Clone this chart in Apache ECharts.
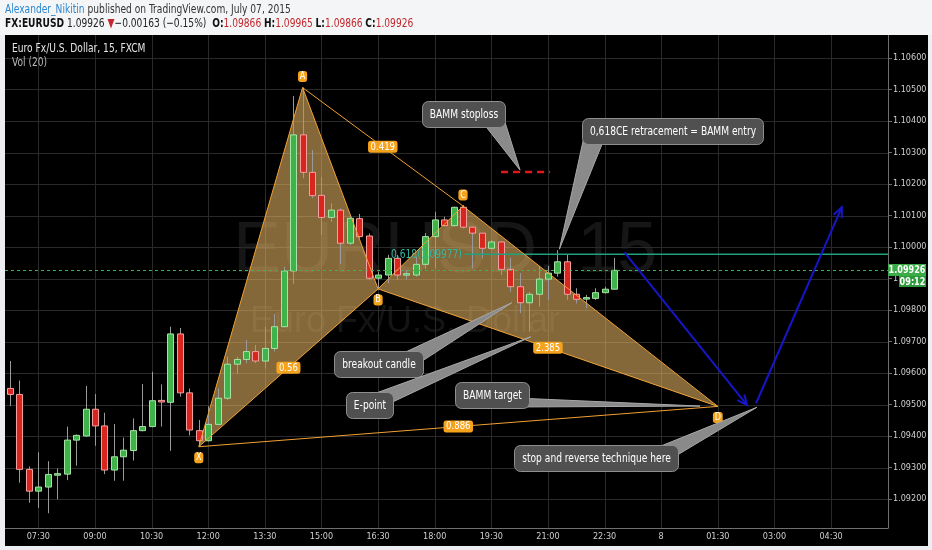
<!DOCTYPE html>
<html>
<head>
<meta charset="utf-8">
<script src="https://cdn.jsdelivr.net/npm/echarts@6.0.0/dist/echarts.min.js"></script>
<style>
html,body{margin:0;padding:0;background:#eef0f3;overflow:hidden;}
#chart{width:932px;height:550px;}
</style>
</head>
<body>
<div id="chart"></div>
<script>
// ---------------- DATA ----------------
const candleTimes = ['06:45','07:00','07:15','07:30','07:45','08:00','08:15','08:30','08:45','09:00','09:15','09:30','09:45','10:00','10:15','10:30','10:45','11:00','11:15','11:30','11:45','12:00','12:15','12:30','12:45','13:00','13:15','13:30','13:45','14:00','14:15','14:30','14:45','15:00','15:15','15:30','15:45','16:00','16:15','16:30','16:45','17:00','17:15','17:30','17:45','18:00','18:15','18:30','18:45','19:00','19:15','19:30','19:45','20:00','20:15','20:30','20:45','21:00','21:15','21:30','21:45','22:00','22:15','22:30','22:45'];
const openPrices = [1.09551,1.09532,1.09294,1.09225,1.09238,1.09276,1.09279,1.09387,1.09400,1.09485,1.09432,1.09292,1.09334,1.09354,1.09417,1.09430,1.09513,1.09507,1.09724,1.09537,1.09417,1.09385,1.09437,1.09520,1.09628,1.09643,1.09668,1.09638,1.09678,1.09747,1.09924,1.10356,1.10237,1.10164,1.10094,1.10117,1.10012,1.10090,1.10035,1.09901,1.09911,1.09964,1.09912,1.09911,1.09945,1.10033,1.10086,1.10068,1.10126,1.10063,1.10044,1.09996,1.10016,1.09929,1.09874,1.09823,1.09850,1.09898,1.09917,1.09953,1.09850,1.09836,1.09837,1.09855,1.09866];
const highPrices = [1.09638,1.09576,1.09303,1.09348,1.09320,1.09297,1.09430,1.09405,1.09559,1.09533,1.09474,1.09438,1.09395,1.09456,1.09565,1.09604,1.09564,1.09747,1.09743,1.09551,1.09451,1.09495,1.09551,1.09652,1.09652,1.09705,1.09689,1.09747,1.09787,1.09937,1.10479,1.10506,1.10308,1.10223,1.10139,1.10122,1.10102,1.10105,1.10043,1.09922,1.09975,1.09975,1.09927,1.09969,1.10044,1.10112,1.10096,1.10128,1.10133,1.10065,1.10044,1.10022,1.10017,1.09966,1.09917,1.09858,1.09940,1.09940,1.09990,1.09975,1.09869,1.09848,1.09869,1.09874,1.09965];
const lowPrices = [1.09495,1.09252,1.09188,1.09172,1.09155,1.09199,1.09260,1.09306,1.09398,1.09369,1.09279,1.09258,1.09258,1.09322,1.09415,1.09428,1.09430,1.09353,1.09525,1.09402,1.09366,1.09383,1.09435,1.09514,1.09597,1.09631,1.09631,1.09615,1.09668,1.09745,1.09883,1.10218,1.10155,1.10038,1.10080,1.09946,1.10006,1.10028,1.09895,1.09867,1.09885,1.09895,1.09897,1.09906,1.09930,1.09932,1.10065,1.10065,1.10059,1.09932,1.09964,1.09990,1.09911,1.09858,1.09790,1.09731,1.09810,1.09832,1.09906,1.09832,1.09821,1.09805,1.09832,1.09853,1.09866];
const closePrices = [1.09532,1.09294,1.09225,1.09238,1.09278,1.09280,1.09387,1.09402,1.09485,1.09432,1.09292,1.09334,1.09355,1.09417,1.09430,1.09512,1.09508,1.09724,1.09537,1.09419,1.09385,1.09437,1.09520,1.09628,1.09643,1.09668,1.09638,1.09678,1.09747,1.09924,1.10356,1.10237,1.10163,1.10094,1.10117,1.10012,1.10091,1.10033,1.09901,1.09911,1.09964,1.09911,1.09914,1.09945,1.10033,1.10086,1.10068,1.10126,1.10063,1.10044,1.09996,1.10016,1.09929,1.09874,1.09823,1.09850,1.09898,1.09917,1.09953,1.09850,1.09834,1.09838,1.09855,1.09866,1.09926];

// axes (time in minutes from Jul 6 00:00)
const timeMin = 397, timeMax = 1800.5;
const timeTicks = [450,540,630,720,810,900,990,1080,1170,1260,1350,1440,1530,1620,1710];
const dayLabel = '8';
const priceMin = 1.09108, priceMax = 1.10673;
const priceTicks = [1.092,1.093,1.094,1.095,1.096,1.097,1.098,1.099,1.100,1.101,1.102,1.103,1.104,1.105,1.106];

// harmonic pattern
const patternNames = ['X','A','B','C','D'];
const patternTimes = ['06 11:45','06 14:30','06 16:30','06 18:45','07 01:30'];
const patternPrices = [1.09366,1.10506,1.09867,1.10130,1.09494];
const patternLabelSide = [1,-1,1,-1,1];
const legPairs = [[0,1],[1,2],[0,2],[2,3],[3,4],[2,4],[0,4],[1,3]];
const legLabels = ['','','0.56','','','2.385','0.886','0.419'];
const fillTriangles = [[0,1,2],[2,3,4]];

// levels
const fibLabel = '0.618(1.09977)';
const fibPrice = 1.09977;
const fibStart = 1128;
const stopTimes = [1185.5,1263.4];
const stopPrice = 1.10238;
const timerText = '09:12';

// arrows
const arrowFrom = [[1381.7,1.09983],[1590.8,1.09504]];
const arrowTo = [[1576.5,1.09498],[1727,1.10126]];

// callouts
const calloutTexts = ['BAMM stoploss','0,618CE retracement = BAMM entry','breakout candle','E-point','BAMM target','stop and reverse technique here'];
const calloutBox = [[1125.6,1.10423],[1458.7,1.10368],[990.5,1.09628],[976,1.09499],[1171.2,1.09530],[1336.5,1.09331]];
const calloutTip = [[1215.7,1.10244],[1278.2,1.09993],[1202.5,1.09823],[1232.7,1.09715],[1501.8,1.09495],[1592,1.09491]];

// header texts
const author = 'Alexander_Nikitin';
const published = ' published on TradingView.com, July 07, 2015';
const symbol = 'FX:EURUSD';
const changeText = '\u22120.00163 (\u22120.15%)';
const chartTitle = 'Euro Fx/U.S. Dollar, 15, FXCM';
const volTitle = 'Vol (20)';
const watermark1 = 'EURUSD, 15';
const watermark2 = 'Euro Fx/U.S. Dollar';

// ---------------- HELPERS ----------------
const NARROW = '"Liberation Sans Narrow","Arial Narrow","DejaVu Sans Condensed",sans-serif';
const SANS = '"Liberation Sans",Arial,sans-serif';
const SQ = 0.81; // horizontal squeeze to emulate the narrow UI font
function parseT(s){
  const parts = s.split(' ');
  let day = 6, hm = s;
  if (parts.length === 2){ day = parseInt(parts[0],10); hm = parts[1]; }
  const [h,m] = hm.split(':').map(Number);
  return (day-6)*1440 + h*60 + m;
}
const pad = n => (n<10?'0':'')+n;
const patternX = patternTimes.map(parseT);
const lastPrice = closePrices[closePrices.length-1];
const fmtPrice = v => v.toFixed(5);

const mctx = document.createElement('canvas').getContext('2d');
function textW(t, font){ mctx.font = font; return mctx.measureText(t).width; }

function txt(style){
  if (style.align){ style.textAlign = style.align; }
  if (style.verticalAlign){ style.textVerticalAlign = style.verticalAlign; }
  return style;
}

const candleData = candleTimes.map((t,i)=>[parseT(t), openPrices[i], highPrices[i], lowPrices[i], closePrices[i]]);

// ---------------- CHART ----------------
const chart = echarts.init(document.getElementById('chart'), null, {renderer:'canvas'});

const option = {
  animation: false,
  backgroundColor: '#000000',
  grid: {left:5, right:44, top:35, bottom:22, show:false},
  xAxis: {
    type:'value', min:timeMin, max:timeMax,
    axisLine:{show:true, lineStyle:{color:'#6e6e6e'}},
    axisTick:{show:false, customValues: timeTicks},
    splitLine:{show:false},
    axisLabel:{
      customValues: timeTicks,
      color:'#cfcfcf', fontSize:9, fontFamily:NARROW, margin:4,
      formatter: v => {
        const m = Math.round(v) % 1440;
        if (m === 0) return dayLabel;
        return pad(Math.floor(m/60))+':'+pad(m%60);
      }
    }
  },
  yAxis: {
    type:'value', position:'right', min:priceMin, max:priceMax, scale:true,
    axisLine:{show:true, lineStyle:{color:'#6e6e6e'}},
    axisTick:{show:true, length:4, lineStyle:{color:'#6e6e6e'}, customValues: priceTicks},
    splitLine:{show:false},
    axisLabel:{
      customValues: priceTicks,
      color:'#cfcfcf', fontSize:9, fontFamily:NARROW, margin:5,
      formatter: v => fmtPrice(v)
    }
  },
  graphic: [
    {type:'text', z:-5, silent:true, style: txt({x:445, y:252, text:watermark1, font:'72px '+SANS, fill:'#161616', align:'center', verticalAlign:'middle'})},
    {type:'text', z:-5, silent:true, style: txt({x:405, y:322, text:watermark2, font:'36px '+SANS, fill:'#141414', align:'center', verticalAlign:'middle'})},
    {type:'rect', z:50, silent:true, shape:{x:0,y:0,width:932,height:35}, style:{fill:'#f4f5f7'}},
    {type:'rect', z:50, silent:true, shape:{x:0,y:35,width:5,height:515}, style:{fill:'#eceef1'}},
    {type:'rect', z:50, silent:true, shape:{x:928,y:35,width:4,height:515}, style:{fill:'#eceef1'}},
    {type:'rect', z:50, silent:true, shape:{x:0,y:546,width:932,height:4}, style:{fill:'#eceef1'}},
    {type:'text', z:51, x:5, y:9.5, scaleX:SQ, style: txt({x:0, y:0, verticalAlign:'middle', align:'left',
      text:'{u|'+author+'}{g|'+published+'}',
      rich:{
        u:{fill:'#2b87cf', color:'#2b87cf', fontSize:12.5, fontFamily:NARROW},
        g:{fill:'#333333', color:'#333333', fontSize:12.5, fontFamily:NARROW}
      }})},
    {type:'text', z:51, x:5, y:24, scaleX:SQ, style: txt({x:0, y:0, verticalAlign:'middle', align:'left',
      text:'{b|'+symbol+'}{n| '+fmtPrice(lastPrice)+' }{r|\u25BC}{n|'+changeText+'  }{b|O:}{r|'+fmtPrice(openPrices[openPrices.length-1])+'} {b|H:}{r|'+fmtPrice(highPrices[highPrices.length-1])+'} {b|L:}{r|'+fmtPrice(lowPrices[lowPrices.length-1])+'} {b|C:}{r|'+fmtPrice(lastPrice)+'}',
      rich:{
        b:{fill:'#111111', color:'#111111', fontSize:12.5, fontWeight:'bold', fontFamily:NARROW},
        n:{fill:'#222222', color:'#222222', fontSize:12.5, fontFamily:NARROW},
        r:{fill:'#c0282d', color:'#c0282d', fontSize:12.5, fontFamily:NARROW}
      }})},
    {type:'text', z:40, x:12, y:49, scaleX:SQ, style: txt({x:0, y:0, text:chartTitle, font:'12.5px '+NARROW, fill:'#e6e6e6', verticalAlign:'middle', align:'left'})},
    {type:'text', z:40, x:12, y:63, scaleX:SQ, style: txt({x:0, y:0, text:volTitle, font:'12.5px '+NARROW, fill:'#b8b8b8', verticalAlign:'middle', align:'left'})}
  ],
  series: [
    // grid lines at tick values
    {
      type:'custom', name:'vgrid', z:0, silent:true, clip:false,
      data: timeTicks.map(t => [t, priceMin]),
      renderItem: (params, api) => {
        const a = api.coord([api.value(0), priceMin]);
        const b = api.coord([api.value(0), priceMax]);
        const x = Math.round(a[0])+0.5;
        return {type:'line', shape:{x1:x, y1:a[1], x2:x, y2:b[1]}, style:{stroke:'#2a2a2a', lineWidth:1}};
      }
    },
    {
      type:'custom', name:'hgrid', z:0, silent:true, clip:false,
      data: priceTicks.map(p => [timeMin, p]),
      renderItem: (params, api) => {
        const a = api.coord([timeMin, api.value(1)]);
        const b = api.coord([timeMax, api.value(1)]);
        const y = Math.round(a[1])+0.5;
        return {type:'line', shape:{x1:a[0], y1:y, x2:b[0], y2:y}, style:{stroke:'#2a2a2a', lineWidth:1}};
      }
    },
    // pattern fills
    {
      type:'custom', name:'fill', z:1, clip:false, silent:true,
      data: fillTriangles,
      renderItem: (params, api) => {
        const tri = fillTriangles[params.dataIndex];
        const pts = tri.map(i => api.coord([patternX[i], patternPrices[i]]));
        return {type:'polygon', shape:{points:pts}, style:{fill:'rgba(240,190,105,0.55)'}};
      }
    },
    // candles
    {
      type:'custom', name:'EURUSD', z:3, silent:true,
      data: candleData,
      renderItem: (params, api) => {
        const t = api.value(0), o = api.value(1), h = api.value(2), l = api.value(3), c = api.value(4);
        const pO = api.coord([t,o]), pC = api.coord([t,c]), pH = api.coord([t,h]), pL = api.coord([t,l]);
        const up = c >= o;
        const cx = Math.round(pO[0]);
        const w = 6;
        let top = Math.min(pO[1], pC[1]), bot = Math.max(pO[1], pC[1]);
        if (bot - top < 1.5){ const mid=(top+bot)/2; top = mid-0.75; bot = mid+0.75; }
        return {type:'group', children:[
          {type:'line', shape:{x1:cx+0.5, y1:pH[1], x2:cx+0.5, y2:pL[1]}, style:{stroke:'#9a9a9a', lineWidth:1}},
          {type:'rect', shape:{x:cx-w/2+0.5, y:top, width:w, height:bot-top},
            style:{fill: up?'#3fb24a':'#d8261f', stroke: up?'#a6e4a6':'#f2a0a0', lineWidth:1}}
        ]};
      }
    },
    // pattern legs + ratio labels
    {
      type:'custom', name:'legs', z:5, clip:false, silent:true,
      data: legPairs,
      renderItem: (params, api) => {
        const [i,j] = legPairs[params.dataIndex];
        const a = api.coord([patternX[i], patternPrices[i]]);
        const b = api.coord([patternX[j], patternPrices[j]]);
        const children = [{type:'line', shape:{x1:a[0],y1:a[1],x2:b[0],y2:b[1]}, style:{stroke:'#f0a134', lineWidth:1}}];
        const lab = legLabels[params.dataIndex];
        if (lab){
          children.push({type:'text', z2:10, x:(a[0]+b[0])/2, y:(a[1]+b[1])/2, scaleX:0.86, style: txt({x:0, y:0, text:lab,
            font:'11px '+NARROW, fill:'#ffffff', align:'center', verticalAlign:'middle',
            backgroundColor:'#f5a21c', padding:[1,3,0,3], borderRadius:3})});
        }
        return {type:'group', children};
      }
    },
    // pattern point letters
    {
      type:'custom', name:'points', z:6, clip:false, silent:true,
      data: patternX.map((x,i)=>[x, patternPrices[i]]),
      renderItem: (params, api) => {
        const p = api.coord([api.value(0), api.value(1)]);
        const side = patternLabelSide[params.dataIndex];
        return {type:'text', x:p[0], y:p[1] + side*11, scaleX:0.9, style: txt({x:0, y:0, text:patternNames[params.dataIndex],
          font:'10px '+NARROW, fill:'#ffffff', align:'center', verticalAlign:'middle',
          backgroundColor:'#f5a21c', padding:[1,2,0,2], borderRadius:3})};
      }
    },
    // last price dotted line
    {
      type:'custom', name:'levels', z:4, clip:false, silent:true,
      data: [[timeMin, lastPrice, timeMax, lastPrice]],
      renderItem: (params, api) => {
        const a = api.coord([api.value(0), api.value(1)]);
        const b = api.coord([api.value(2), api.value(3)]);
        return {type:'line', shape:{x1:a[0], y1:Math.round(a[1])+0.5, x2:b[0], y2:Math.round(b[1])+0.5},
          style:{stroke:'#3cb54a', lineWidth:1, lineDash:[3,3]}};
      }
    },
    // fib level
    {
      type:'custom', name:'fib', z:4, clip:false, silent:true,
      data: [[fibStart, fibPrice, timeMax, fibPrice]],
      renderItem: (params, api) => {
        const a = api.coord([api.value(0), api.value(1)]);
        const b = api.coord([api.value(2), api.value(3)]);
        return {type:'group', children:[
          {type:'line', shape:{x1:a[0], y1:a[1], x2:b[0], y2:b[1]}, style:{stroke:'#21a07e', lineWidth:1.5}},
          {type:'text', x:a[0]-3, y:a[1], scaleX:SQ, style: txt({x:0, y:0, text:fibLabel, font:'12.5px '+NARROW, fill:'#2fb8a0', align:'right', verticalAlign:'middle'})}
        ]};
      }
    },
    // stoploss
    {
      type:'custom', name:'stop', z:4, clip:false, silent:true,
      data: [[stopTimes[0], stopPrice, stopTimes[1], stopPrice]],
      renderItem: (params, api) => {
        const a = api.coord([api.value(0), api.value(1)]);
        const b = api.coord([api.value(2), api.value(3)]);
        return {type:'line', shape:{x1:a[0], y1:a[1], x2:b[0], y2:b[1]}, style:{stroke:'#e3161b', lineWidth:2.5, lineDash:[7,5]}};
      }
    },
    // arrows
    {
      type:'custom', name:'arrows', z:6, clip:false, silent:true,
      data: arrowFrom.map((f,i)=>[f[0], f[1], arrowTo[i][0], arrowTo[i][1]]),
      renderItem: (params, api) => {
        const a = api.coord([api.value(0), api.value(1)]);
        const b = api.coord([api.value(2), api.value(3)]);
        const ang = Math.atan2(b[1]-a[1], b[0]-a[0]);
        const L = 11, s = 0.42;
        const h1 = [b[0]-L*Math.cos(ang-s), b[1]-L*Math.sin(ang-s)];
        const h2 = [b[0]-L*Math.cos(ang+s), b[1]-L*Math.sin(ang+s)];
        return {type:'group', children:[
          {type:'line', shape:{x1:a[0],y1:a[1],x2:b[0],y2:b[1]}, style:{stroke:'#1616c8', lineWidth:2}},
          {type:'polyline', shape:{points:[h1,b,h2]}, style:{stroke:'#1616c8', lineWidth:2, fill:'none'}}
        ]};
      }
    },
    // callouts
    {
      type:'custom', name:'callouts', z:8, clip:false, silent:true,
      data: calloutBox.map((b,i)=>[b[0], b[1], calloutTip[i][0], calloutTip[i][1]]),
      renderItem: (params, api) => {
        const c = api.coord([api.value(0), api.value(1)]);
        const t = api.coord([api.value(2), api.value(3)]);
        const text = calloutTexts[params.dataIndex];
        const font = '12.5px '+NARROW;
        const w = Math.round(textW(text, font)*SQ + 15), h = 26;
        const x0 = Math.round(c[0]-w/2)+0.5, y0 = Math.round(c[1]-h/2)+0.5;
        const sx = t[0] > c[0] ? 1 : -1, sy = t[1] > c[1] ? 1 : -1;
        const cx = sx>0 ? x0+w : x0, cy = sy>0 ? y0+h : y0;
        const p1 = [cx - sx*20, cy - sy*1.5];
        const p2 = [cx - sx*2, cy - sy*10];
        return {type:'group', children:[
          {type:'polygon', shape:{points:[p1, t, p2]}, style:{fill:'#8a8a8a', stroke:'#a8a8a8', lineWidth:1}},
          {type:'rect', shape:{x:x0, y:y0, width:w, height:h, r:6}, style:{fill:'#505050', stroke:'#8f8f8f', lineWidth:1}},
          {type:'text', x:x0+w/2, y:y0+h/2+0.5, scaleX:SQ, style: txt({x:0, y:0, text:text, font:font, fill:'#ffffff', align:'center', verticalAlign:'middle'})}
        ]};
      }
    },
    // last price tag on axis
    {
      type:'custom', name:'tag', z:9, clip:false, silent:true,
      data: [[timeMax, lastPrice]],
      renderItem: (params, api) => {
        const p = api.coord([api.value(0), api.value(1)]);
        const x = Math.round(p[0]), y = Math.round(p[1]);
        return {type:'group', children:[
          {type:'rect', shape:{x:x, y:y-6, width:38, height:12}, style:{fill:'#3aab46'}},
          {type:'text', x:x+19, y:y+0.5, scaleX:0.9, style: txt({x:0, y:0, text:fmtPrice(lastPrice), font:'bold 10px '+NARROW, fill:'#ffffff', align:'center', verticalAlign:'middle'})},
          {type:'rect', shape:{x:x+11, y:y+6, width:27, height:11}, style:{fill:'#2f9a3c'}},
          {type:'text', x:x+24.5, y:y+12, scaleX:0.9, style: txt({x:0, y:0, text:timerText, font:'bold 10px '+NARROW, fill:'#ffffff', align:'center', verticalAlign:'middle'})}
        ]};
      }
    }
  ]
};
chart.setOption(option);
</script>
</body>
</html>
